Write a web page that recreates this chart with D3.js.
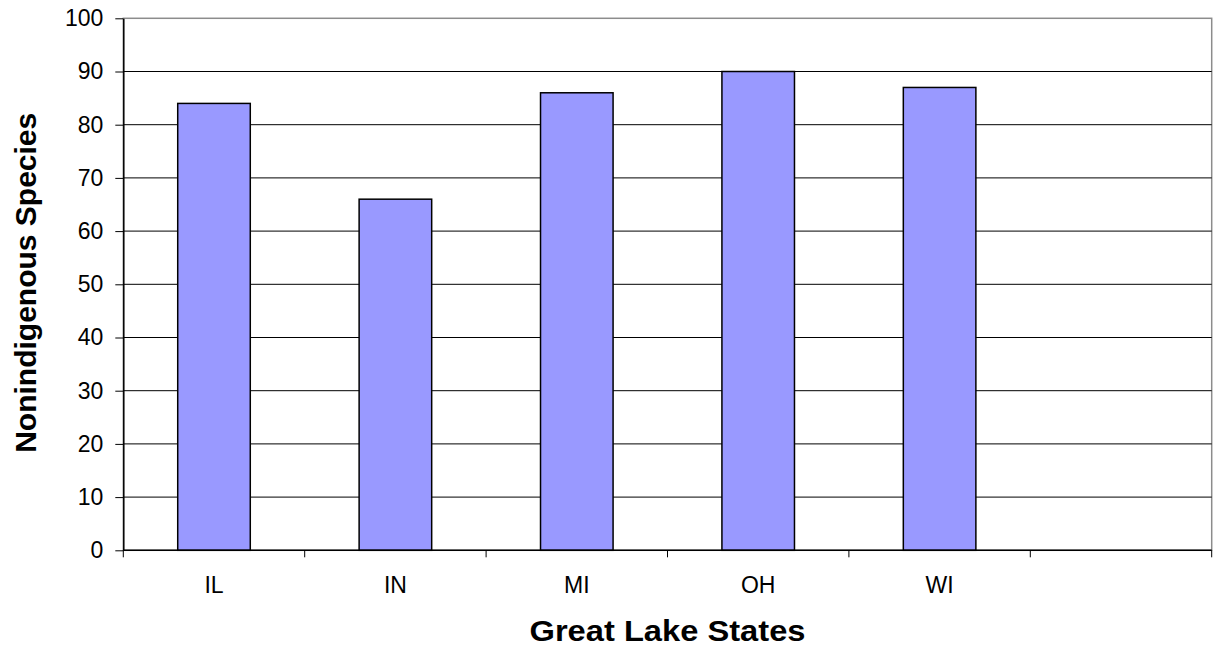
<!DOCTYPE html>
<html>
<head>
<meta charset="utf-8">
<script src="https://cdn.jsdelivr.net/npm/d3@7"></script>
<style>
  body { margin: 0; background: #fff; }
  svg { display: block; }
  text { font-family: Arial, "Liberation Sans", sans-serif; fill: #000; }
</style>
</head>
<body>
<svg id="chart" width="1216" height="647"></svg>
<script>
const categories = ["IL", "IN", "MI", "OH", "WI", ""];
const values = [84, 66, 86, 90, 87];
const yTicks = [0, 10, 20, 30, 40, 50, 60, 70, 80, 90, 100];
const xTitle = "Great Lake States";
const yTitle = "Nonindigenous Species";

(function () {
const svg = d3.select("#chart");
const pLeft = 123.3, pRight = 1211.7, pTop = 18.3, pBottom = 550.3;

const x = d3.scaleBand().domain(categories).range([pLeft, pRight]).padding(0);
const y = d3.scaleLinear().domain([0, 100]).range([pBottom, pTop]);

// plot border (top/right gray)
svg.append("rect")
  .attr("x", pLeft).attr("y", pTop)
  .attr("width", pRight - pLeft).attr("height", pBottom - pTop)
  .attr("fill", "none").attr("stroke", "#8c8c8c").attr("stroke-width", 1.5);

// gridlines
svg.append("g").selectAll("line")
  .data(yTicks.filter(d => d > 0 && d < 100))
  .join("line")
  .attr("x1", pLeft).attr("x2", pRight)
  .attr("y1", d => y(d)).attr("y2", d => y(d))
  .attr("stroke", "#000").attr("stroke-width", 1);

// bars
const bw = x.bandwidth() * 0.4;
svg.append("g").selectAll("rect")
  .data(values)
  .join("rect")
  .attr("x", (d, i) => x(categories[i]) + (x.bandwidth() - bw) / 2)
  .attr("y", d => y(d))
  .attr("width", bw)
  .attr("height", d => y(0) - y(d))
  .attr("fill", "#9999ff")
  .attr("stroke", "#000")
  .attr("stroke-width", 1.5);

// y axis
const yAxis = d3.axisLeft(y).tickValues(yTicks).tickSize(8).tickPadding(12).tickSizeOuter(0);
const gy = svg.append("g").attr("transform", `translate(${pLeft},0)`).call(yAxis);
gy.select(".domain").attr("stroke", "#000").attr("stroke-width", 1.5);
gy.selectAll(".tick line").attr("stroke", "#000");
gy.selectAll(".tick text").attr("font-size", "23px").attr("fill", "#000")
  .attr("font-family", "Arial, 'Liberation Sans', sans-serif");

// x axis: ticks at category boundaries
const gx = svg.append("g").attr("transform", `translate(0,${pBottom})`);
gx.append("line").attr("x1", pLeft).attr("x2", pRight).attr("y1", 0).attr("y2", 0)
  .attr("stroke", "#000").attr("stroke-width", 1.5);
const bounds = categories.map(c => x(c)).concat([x(categories[categories.length - 1]) + x.bandwidth()]);
gx.selectAll("line.tk").data(bounds).join("line").attr("class", "tk")
  .attr("x1", d => d).attr("x2", d => d).attr("y1", 0).attr("y2", 7)
  .attr("stroke", "#000");
gx.selectAll("text").data(categories).join("text")
  .attr("x", d => x(d) + x.bandwidth() / 2)
  .attr("y", 43)
  .attr("text-anchor", "middle")
  .attr("font-size", "23px")
  .text(d => d);

// axis titles
svg.append("text")
  .attr("x", (pLeft + pRight) / 2)
  .attr("y", 640.5)
  .attr("text-anchor", "middle")
  .attr("font-size", "29px")
  .attr("font-weight", "bold")
  .attr("textLength", 276)
  .attr("lengthAdjust", "spacingAndGlyphs")
  .text(xTitle);

svg.append("text")
  .attr("transform", `translate(36,${(112.3 + 453.3) / 2}) rotate(-90)`)
  .attr("text-anchor", "middle")
  .attr("font-size", "30px")
  .attr("font-weight", "bold")
  .text(yTitle);
})();
</script>
</body>
</html>
